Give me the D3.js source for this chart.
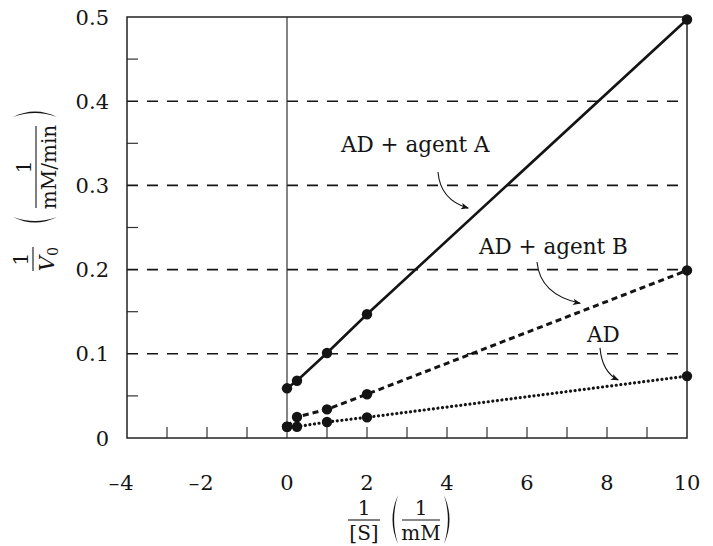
<!DOCTYPE html>
<html><head><meta charset="utf-8">
<script src="https://cdn.jsdelivr.net/npm/d3@7"></script>
<style>html,body{margin:0;padding:0;background:#fff;} svg{display:block;font-family:"DejaVu Serif",serif;}</style>
</head><body>
<svg id="c" width="713" height="546"></svg>
<script>
// ---- data ----
const xTicksLabeled = [-4, -2, 0, 2, 4, 6, 8, 10];
const xTicksMinor = [-3, -2, -1, 1, 2, 3, 4, 5, 6, 7, 8, 9];
const yTicksLabeled = [0, 0.1, 0.2, 0.3, 0.4, 0.5];
const yGrid = [0.1, 0.2, 0.3, 0.4];
const yTicksMinor = [0.05, 0.15, 0.25, 0.35, 0.45];

const xAgentA = [0, 0.25, 1, 2, 10];
const yAgentA = [0.059, 0.068, 0.101, 0.147, 0.497];
const xAgentB = [0, 0.25, 1, 2, 10];
const yAgentB = [0.0134, 0.025, 0.034, 0.052, 0.199];
const xAD = [0, 0.25, 1, 2, 10];
const yAD = [0.0134, 0.0134, 0.019, 0.0245, 0.0735];

const labels = ["AD + agent A", "AD + agent B", "AD"];
const labelPos = [[1.35, 0.34], [4.8, 0.2185], [7.5, 0.114]];
const arrowPaths = [
  [[3.775, 0.316], [3.83, 0.283], [4.53, 0.273]],
  [[6.25, 0.209], [6.33, 0.17], [7.33, 0.160]],
  [[7.825, 0.107], [7.88, 0.078], [8.28, 0.069]]
];

// ---- layout ----
const svg = d3.select("#c");
const x = d3.scaleLinear().domain([-4, 10]).range([127, 687]);
const y = d3.scaleLinear().domain([0, 0.5]).range([438, 17]);
const ink = "#141414";

const defs = svg.append("defs");
defs.append("marker").attr("id", "ah").attr("viewBox", "0 -5 10 10")
  .attr("refX", 9).attr("refY", 0).attr("markerWidth", 10).attr("markerHeight", 8)
  .attr("markerUnits", "userSpaceOnUse").attr("orient", "auto")
  .append("path").attr("d", "M0,-4 L10,0 L0,4 L2.5,0 Z").attr("fill", ink);

// gridlines (dashed)
svg.append("g").selectAll("line").data(yGrid).join("line")
  .attr("x1", x(-4)).attr("x2", x(10)).attr("y1", d => y(d)).attr("y2", d => y(d))
  .attr("stroke", ink).attr("stroke-width", 1.6).attr("stroke-dasharray", "11,9");

// vertical line at x = 0
svg.append("line").attr("x1", x(0)).attr("x2", x(0)).attr("y1", y(0)).attr("y2", y(0.5))
  .attr("stroke", "#333").attr("stroke-width", 1.2);

// minor ticks
svg.append("g").selectAll("line").data(yTicksMinor).join("line")
  .attr("x1", x(-4)).attr("x2", x(-4) + 11).attr("y1", d => y(d)).attr("y2", d => y(d))
  .attr("stroke", "#333").attr("stroke-width", 1.2);
svg.append("g").selectAll("line").data(xTicksMinor).join("line")
  .attr("x1", d => x(d)).attr("x2", d => x(d)).attr("y1", y(0)).attr("y2", y(0) - 11)
  .attr("stroke", "#333").attr("stroke-width", 1.2);

// frame
svg.append("rect").attr("x", x(-4)).attr("y", y(0.5))
  .attr("width", x(10) - x(-4)).attr("height", y(0) - y(0.5))
  .attr("fill", "none").attr("stroke", "#222").attr("stroke-width", 1.5);

// y tick labels
svg.append("g").selectAll("text").data(yTicksLabeled).join("text")
  .attr("x", x(-4) - 18).attr("y", d => y(d)).attr("dy", "0.36em")
  .attr("text-anchor", "end").attr("font-size", 21).attr("fill", ink)
  .text(d => d === 0 ? "0" : d.toFixed(1));

// x tick labels
const xl = svg.append("g");
xTicksLabeled.forEach(v => {
  const t = xl.append("text").attr("x", x(v)).attr("y", 490)
    .attr("text-anchor", "middle").attr("font-size", 21).attr("fill", ink)
    .text(String(Math.abs(v)));
  if (v < 0) {
    const w = t.node().getComputedTextLength();
    xl.append("text").attr("x", x(v) - w / 2 - 1).attr("y", 490)
      .attr("text-anchor", "end").attr("font-size", 21).attr("fill", ink).text("–");
  }
});

// series lines
const line = d3.line().x(d => x(d[0])).y(d => y(d[1]));
const series = [
  {xs: xAgentA, ys: yAgentA, dash: null, w: 2.6, cap: "butt"},
  {xs: xAgentB, ys: yAgentB, dash: "6,4", w: 3, cap: "butt"},
  {xs: xAD, ys: yAD, dash: "0.01,4.6", w: 3.2, cap: "round"}
];
series.forEach(s => {
  const pts = s.xs.map((v, i) => [v, s.ys[i]]);
  svg.append("path").datum(pts).attr("d", line).attr("fill", "none")
    .attr("stroke", ink).attr("stroke-width", s.w)
    .attr("stroke-linecap", s.cap)
    .attr("stroke-dasharray", s.dash);
});
series.forEach(s => {
  svg.append("g").selectAll("circle").data(s.xs.map((v, i) => [v, s.ys[i]])).join("circle")
    .attr("cx", d => x(d[0])).attr("cy", d => y(d[1])).attr("r", 5.2).attr("fill", ink);
});

// annotations
svg.append("g").selectAll("text").data(labels).join("text")
  .attr("x", (d, i) => x(labelPos[i][0])).attr("y", (d, i) => y(labelPos[i][1]))
  .attr("font-size", 21.5).attr("fill", ink).text(d => d);
arrowPaths.forEach(p => {
  const [a, c, b] = p.map(q => [x(q[0]), y(q[1])]);
  svg.append("path").attr("d", `M${a[0]},${a[1]} Q${c[0]},${c[1]} ${b[0]},${b[1]}`)
    .attr("fill", "none").attr("stroke", ink).attr("stroke-width", 1.1)
    .attr("marker-end", "url(#ah)");
});

// helpers for fraction labels
function paren(g, cx, top, bot, bulge, left) {
  const m = (top + bot) / 2, s = left ? -1 : 1;
  g.append("path").attr("d",
    `M${cx},${top} Q${cx + s * 2 * bulge},${m} ${cx},${bot} Q${cx + s * (2 * bulge - 3.2)},${m} ${cx},${top} Z`)
    .attr("fill", ink);
}
function fraction(g, cx, num, den, half, fs, numDy, denDy, sub, italic) {
  g.append("line").attr("x1", cx - half).attr("x2", cx + half).attr("y1", 0).attr("y2", 0)
    .attr("stroke", ink).attr("stroke-width", 1.1);
  g.append("text").attr("x", cx).attr("y", numDy).attr("text-anchor", "middle")
    .attr("font-size", fs).attr("fill", ink).text(num);
  const t = g.append("text").attr("x", cx).attr("y", denDy).attr("text-anchor", "middle")
    .attr("font-size", fs).attr("fill", ink);
  t.append("tspan").attr("font-style", italic ? "italic" : null).text(den);
  if (sub) t.append("tspan").attr("font-size", fs * 0.68).attr("dy", 4).text(sub);
}

// y-axis title
const gy1 = svg.append("g").attr("transform", "translate(33,259) rotate(-90)");
fraction(gy1, 0, "1", "V", 12, 21, -5.5, 20.5, "0", true);
const gy2 = svg.append("g").attr("transform", "translate(36,167) rotate(-90)");
fraction(gy2, 0, "1", "mM/min", 41, 20, -5.5, 19.5, null, false);
paren(gy2, -50, -23, 21, 5.5, true);
paren(gy2, 50, -23, 21, 5.5, false);

// x-axis title
const gx1 = svg.append("g").attr("transform", "translate(0,520)");
fraction(gx1, 364, "1", "[S]", 16, 20, -5.5, 19.5, null, false);
const gx2 = svg.append("g").attr("transform", "translate(0,520)");
fraction(gx2, 421, "1", "mM", 19, 20, -5.5, 19.5, null, false);
paren(gx2, 398, -25, 24, 5.5, true);
paren(gx2, 444, -25, 24, 5.5, false);
</script>
</body></html>
